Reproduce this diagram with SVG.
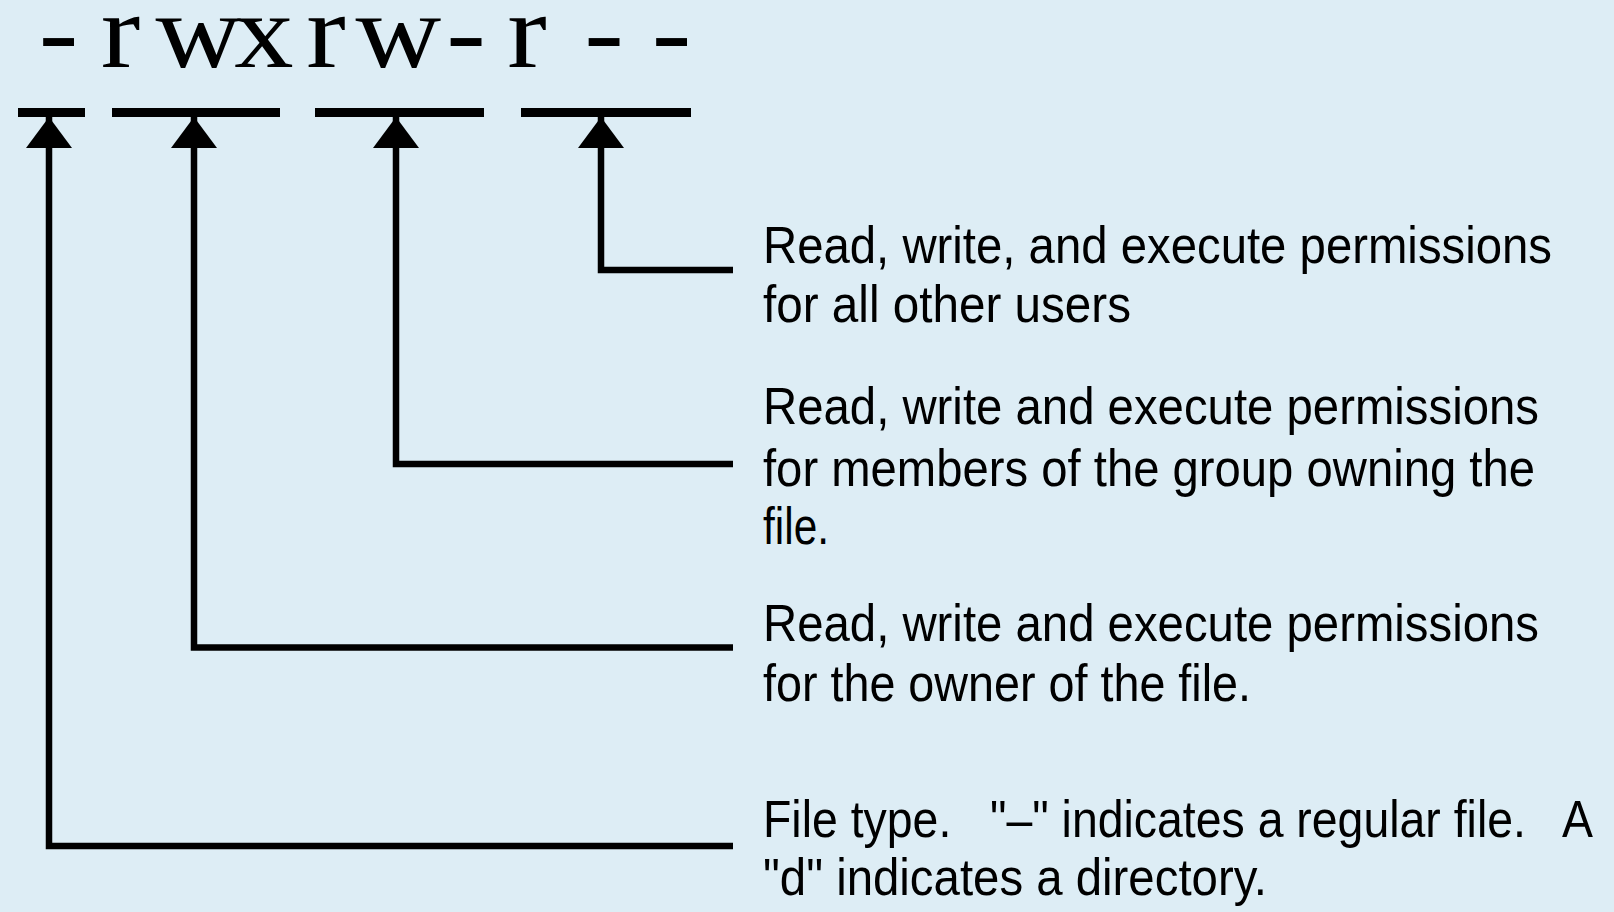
<svg xmlns="http://www.w3.org/2000/svg" width="1614" height="912" viewBox="0 0 1614 912">
  <style>
    .bg { fill: #DDEDF5; }
    .perm { font-family: "Liberation Serif", "Times New Roman", serif; font-size: 106px; fill: #000; text-anchor: middle; }
    .bar { stroke: #000; stroke-width: 9; fill: none; }
    .conn { stroke: #000; stroke-width: 6.5; fill: none; stroke-linejoin: miter; stroke-linecap: butt; }
    .lbl { font-family: "Liberation Sans", Arial, sans-serif; font-size: 52px; fill: #000; white-space: pre; }
  </style>
  <defs>
    <marker id="arrow" markerUnits="userSpaceOnUse" viewBox="0 -23 31 46" refX="31" refY="0" markerWidth="31" markerHeight="46" orient="auto">
      <path d="M0,-23 L31,0 L0,23 z" fill="#000"/>
    </marker>
  </defs>
  <rect class="bg" x="0" y="0" width="1614" height="912"/>

  <g id="permission-string" transform="scale(1.12,1)">
    <text class="perm" y="67" x="52.2 107.6 177.2 235.7 291.1 355.8 416.1 470.5 539.3 599.6">-rwxrw-r--</text>
  </g>

  <g id="bars">
    <line class="bar" x1="18" y1="112.5" x2="85" y2="112.5"/>
    <line class="bar" x1="112" y1="112.5" x2="280" y2="112.5"/>
    <line class="bar" x1="315" y1="112.5" x2="484" y2="112.5"/>
    <line class="bar" x1="521" y1="112.5" x2="691" y2="112.5"/>
  </g>

  <g id="connectors">
    <path class="conn" d="M733 270 H601 V117" marker-end="url(#arrow)"/>
    <path class="conn" d="M733 464 H396 V117" marker-end="url(#arrow)"/>
    <path class="conn" d="M733 647.5 H194 V117" marker-end="url(#arrow)"/>
    <path class="conn" d="M733 846 H49 V117" marker-end="url(#arrow)"/>
  </g>

  <g id="label-others">
    <text class="lbl" x="763" y="263" textLength="789" lengthAdjust="spacingAndGlyphs">Read, write, and execute permissions</text>
    <text class="lbl" x="763" y="322" textLength="368" lengthAdjust="spacingAndGlyphs">for all other users</text>
  </g>

  <g id="label-group">
    <text class="lbl" x="763" y="424" textLength="776" lengthAdjust="spacingAndGlyphs">Read, write and execute permissions</text>
    <text class="lbl" x="763" y="485.5" textLength="772" lengthAdjust="spacingAndGlyphs">for members of the group owning the</text>
    <text class="lbl" x="763" y="543.5" textLength="66" lengthAdjust="spacingAndGlyphs">file.</text>
  </g>

  <g id="label-owner">
    <text class="lbl" x="763" y="641" textLength="776" lengthAdjust="spacingAndGlyphs">Read, write and execute permissions</text>
    <text class="lbl" x="763" y="701" textLength="488" lengthAdjust="spacingAndGlyphs">for the owner of the file.</text>
  </g>

  <g id="label-filetype">
    <text class="lbl" x="763" y="837" textLength="830" lengthAdjust="spacingAndGlyphs">File type.   "–" indicates a regular file.   A</text>
    <text class="lbl" x="763" y="895" textLength="504" lengthAdjust="spacingAndGlyphs">"d" indicates a directory.</text>
  </g>
</svg>
